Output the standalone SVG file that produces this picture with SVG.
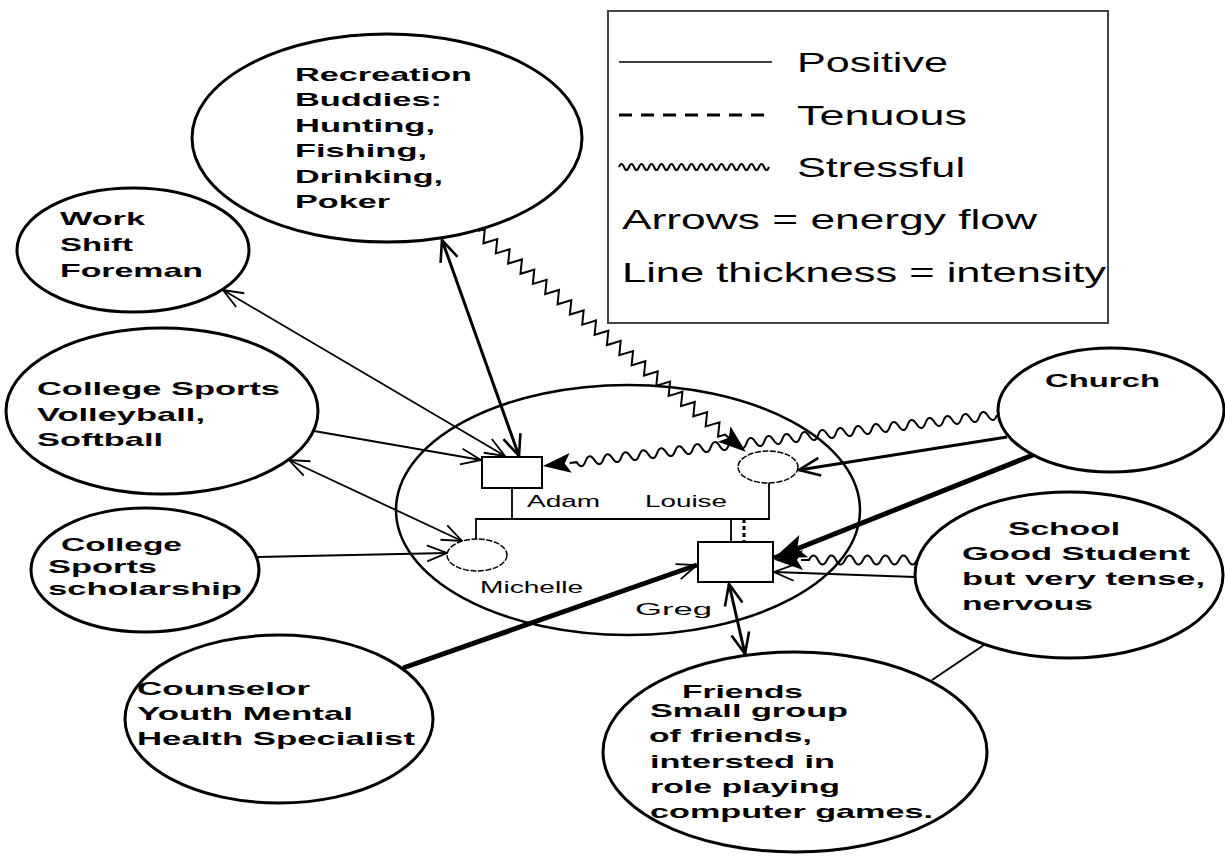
<svg xmlns="http://www.w3.org/2000/svg" xmlns:xlink="http://www.w3.org/1999/xlink" width="1225" height="858" viewBox="0 0 1225 858">
<style>
.bg{fill:#ffffff}
.node{fill:none;stroke:#000;stroke-width:3}
.fam{fill:none;stroke:#000;stroke-width:2.5}
.box{fill:#fff;stroke:#000;stroke-width:2}
.fem{fill:#fff;stroke:#000;stroke-width:1.5;stroke-dasharray:6 1.5}
.tie{fill:none;stroke:#000;stroke-width:1.8}
.lg{font-family:"Liberation Sans",Arial,Helvetica,sans-serif;font-size:28px;fill:#000}
.nt{font-family:"Liberation Sans",Arial,Helvetica,sans-serif;font-size:19px;font-weight:bold;fill:#000}
.fl{font-family:"Liberation Sans",Arial,Helvetica,sans-serif;font-size:16px;fill:#000}
.thin{fill:none;stroke:#000;stroke-width:1.8}
.mid{fill:none;stroke:#000;stroke-width:3}
.thick{fill:none;stroke:#000;stroke-width:5}
.zig{fill:none;stroke:#000;stroke-width:2;stroke-linejoin:miter}
.wave{fill:none;stroke:#000;stroke-width:2}
</style>
<defs>
<marker id="chev" viewBox="-30 -15 40 30" markerWidth="40" markerHeight="30" refX="0" refY="0" orient="auto-start-reverse" markerUnits="userSpaceOnUse" overflow="visible">
<path d="M-20,-8 L0,0 L-20,8" fill="none" stroke="#000" stroke-width="1.8"/>
</marker>
<marker id="chevB" viewBox="-30 -15 40 30" markerWidth="40" markerHeight="30" refX="0" refY="0" orient="auto-start-reverse" markerUnits="userSpaceOnUse" overflow="visible">
<path d="M-21,-9 L0,0 L-21,9" fill="none" stroke="#000" stroke-width="2.6"/>
</marker>
<marker id="solid" viewBox="-35 -15 40 30" markerWidth="40" markerHeight="30" refX="0" refY="0" orient="auto" markerUnits="userSpaceOnUse" overflow="visible">
<path d="M0,0 L-32,-12 L-25,0 L-32,12 Z" fill="#000"/>
</marker>
<path id="headF" d="M0,0 L-28,-10 L-22,0 L-28,10 Z" fill="#000"/>
</defs>
<rect class="bg" x="0" y="0" width="1225" height="858"/>

<g id="legend">
<rect x="608" y="11" width="500" height="312" fill="none" stroke="#444" stroke-width="2"/>
<line x1="619" y1="62" x2="772" y2="62" stroke="#000" stroke-width="1.5"/>
<text class="lg" x="797" y="72" textLength="151" lengthAdjust="spacingAndGlyphs">Positive</text>
<line x1="619" y1="115" x2="766" y2="115" stroke="#000" stroke-width="3" stroke-dasharray="13 9"/>
<text class="lg" x="797" y="125" textLength="170" lengthAdjust="spacingAndGlyphs">Tenuous</text>
<path class="wave" stroke-width="1.8" d="M619,167 q2.5,-6 5,0 t5,0 t5,0 t5,0 t5,0 t5,0 t5,0 t5,0 t5,0 t5,0 t5,0 t5,0 t5,0 t5,0 t5,0 t5,0 t5,0 t5,0 t5,0 t5,0 t5,0 t5,0 t5,0 t5,0 t5,0 t5,0 t5,0 t5,0 t5,0 t5,0"/>
<text class="lg" x="797" y="177" textLength="168" lengthAdjust="spacingAndGlyphs">Stressful</text>
<text class="lg" x="622" y="229" textLength="415" lengthAdjust="spacingAndGlyphs">Arrows = energy flow</text>
<text class="lg" x="622" y="282" textLength="484" lengthAdjust="spacingAndGlyphs">Line thickness = intensity</text>
</g>

<g id="connectors">
<!-- Recreation <-> Adam -->
<line class="mid" x1="442" y1="240" x2="519" y2="456" marker-start="url(#chevB)" marker-end="url(#chevB)"/>
<!-- Work <-> Adam -->
<line class="thin" x1="223" y1="290" x2="505" y2="456" marker-start="url(#chev)" marker-end="url(#chev)"/>
<!-- College Sports -> Adam -->
<line class="thin" x1="314" y1="431" x2="481" y2="460" marker-end="url(#chev)"/>
<!-- College Sports <-> Michelle -->
<line class="thin" x1="289" y1="460" x2="462" y2="541" marker-start="url(#chev)" marker-end="url(#chev)"/>
<!-- Scholarship -> Michelle -->
<line class="thin" x1="257" y1="557" x2="447" y2="553" marker-end="url(#chev)"/>
<!-- Recreation ~> Louise -->
<g transform="translate(478,231) rotate(39.5)">
<path class="zig" d="M0,0 l4,-6 l8,12 l4,-6 l4,-6 l8,12 l4,-6 l4,-6 l8,12 l4,-6 l4,-6 l8,12 l4,-6 l4,-6 l8,12 l4,-6 l4,-6 l8,12 l4,-6 l4,-6 l8,12 l4,-6 l4,-6 l8,12 l4,-6 l4,-6 l8,12 l4,-6 l4,-6 l8,12 l4,-6 l4,-6 l8,12 l4,-6 l4,-6 l8,12 l4,-6 l4,-6 l8,12 l4,-6 l4,-6 l8,12 l4,-6 l4,-6 l8,12 l4,-6 l4,-6 l8,12 l4,-6 l4,-6 l8,12 l4,-6 l4,-6 l8,12 l4,-6 l4,-6 l8,12 l4,-6 l4,-6 l8,12 l4,-6 L326,0"/>
<use xlink:href="#headF" href="#headF" transform="translate(347,0)"/>
</g>
<!-- Church ~> Adam -->
<g transform="translate(997,415) rotate(173.6)">
<path class="wave" d="M0,0 q4.5,-9 9,0 t9,0 t9,0 t9,0 t9,0 t9,0 t9,0 t9,0 t9,0 t9,0 t9,0 t9,0 t9,0 t9,0 t9,0 t9,0 t9,0 t9,0 t9,0 t9,0 t9,0 t9,0 t9,0 t9,0 t9,0 t9,0 t9,0 t9,0 t9,0 t9,0 t9,0 t9,0 t9,0 t9,0 t9,0 t9,0 t9,0 t9,0 t9,0 t9,0 t9,0 t9,0 t9,0 t9,0 t9,0 t9,0 t9,0 l7,0"/>
<use xlink:href="#headF" href="#headF" transform="translate(457,0)"/>
</g>
<!-- Church -> Louise -->
<line class="mid" x1="1007" y1="437" x2="799" y2="470" marker-end="url(#chevB)"/>
<!-- Church -> Greg -->
<line class="thick" x1="1033" y1="455" x2="774" y2="558" marker-end="url(#solid)"/>
<!-- School ~> Greg -->
<g transform="translate(917,560) rotate(180)">
<path class="wave" d="M0,0 q4.5,-9 9,0 t9,0 t9,0 t9,0 t9,0 t9,0 t9,0 t9,0 t9,0 t9,0 t9,0 t9,0 l8,0"/>
<use xlink:href="#headF" href="#headF" transform="translate(142,0)"/>
</g>
<!-- School -> Greg -->
<line class="thin" x1="915" y1="577" x2="774" y2="572" marker-end="url(#chev)"/>
<!-- Counselor -> Greg -->
<line class="thick" x1="403" y1="668" x2="697" y2="565" marker-end="url(#chev)"/>
<!-- Greg <-> Friends -->
<line class="mid" x1="729" y1="584" x2="745" y2="654" marker-start="url(#chevB)" marker-end="url(#chevB)"/>
<!-- School - Friends -->
<line x1="984" y1="645" x2="932" y2="680" stroke="#000" stroke-width="2"/>
</g>

<g id="recreation">
<ellipse class="node" cx="387" cy="138" rx="195" ry="104"/>
<text class="nt" x="295" y="81" textLength="177" lengthAdjust="spacingAndGlyphs">Recreation</text>
<text class="nt" x="295" y="106" textLength="147" lengthAdjust="spacingAndGlyphs">Buddies:</text>
<text class="nt" x="295" y="132" textLength="140" lengthAdjust="spacingAndGlyphs">Hunting,</text>
<text class="nt" x="295" y="157" textLength="132" lengthAdjust="spacingAndGlyphs">Fishing,</text>
<text class="nt" x="295" y="183" textLength="148" lengthAdjust="spacingAndGlyphs">Drinking,</text>
<text class="nt" x="295" y="208" textLength="95" lengthAdjust="spacingAndGlyphs">Poker</text>
</g>

<g id="work">
<ellipse class="node" cx="133" cy="250" rx="116" ry="62"/>
<text class="nt" x="60" y="225" textLength="85" lengthAdjust="spacingAndGlyphs">Work</text>
<text class="nt" x="60" y="251" textLength="73" lengthAdjust="spacingAndGlyphs">Shift</text>
<text class="nt" x="60" y="277" textLength="143" lengthAdjust="spacingAndGlyphs">Foreman</text>
</g>

<g id="college-sports">
<ellipse class="node" cx="162" cy="411" rx="156" ry="83"/>
<text class="nt" x="37" y="395" textLength="243" lengthAdjust="spacingAndGlyphs">College Sports</text>
<text class="nt" x="37" y="421" textLength="168" lengthAdjust="spacingAndGlyphs">Volleyball,</text>
<text class="nt" x="37" y="446" textLength="126" lengthAdjust="spacingAndGlyphs">Softball</text>
</g>

<g id="scholarship">
<ellipse class="node" cx="145" cy="570" rx="114" ry="62"/>
<text class="nt" x="61" y="551" textLength="121" lengthAdjust="spacingAndGlyphs">College</text>
<text class="nt" x="48" y="573" textLength="109" lengthAdjust="spacingAndGlyphs">Sports</text>
<text class="nt" x="48" y="595" textLength="194" lengthAdjust="spacingAndGlyphs">scholarship</text>
</g>

<g id="counselor">
<ellipse class="node" cx="279" cy="719" rx="154" ry="84"/>
<text class="nt" x="137" y="695" textLength="173" lengthAdjust="spacingAndGlyphs">Counselor</text>
<text class="nt" x="137" y="720" textLength="216" lengthAdjust="spacingAndGlyphs">Youth Mental</text>
<text class="nt" x="137" y="745" textLength="278" lengthAdjust="spacingAndGlyphs">Health Specialist</text>
</g>

<g id="friends">
<ellipse class="node" cx="795" cy="752" rx="192" ry="100"/>
<text class="nt" x="682" y="698" textLength="121" lengthAdjust="spacingAndGlyphs">Friends</text>
<text class="nt" x="650" y="717" textLength="198" lengthAdjust="spacingAndGlyphs">Small group</text>
<text class="nt" x="649" y="742" textLength="163" lengthAdjust="spacingAndGlyphs">of friends,</text>
<text class="nt" x="650" y="768" textLength="185" lengthAdjust="spacingAndGlyphs">intersted in</text>
<text class="nt" x="650" y="793" textLength="190" lengthAdjust="spacingAndGlyphs">role playing</text>
<text class="nt" x="650" y="818" textLength="283" lengthAdjust="spacingAndGlyphs">computer games.</text>
</g>

<g id="school">
<ellipse class="node" cx="1069" cy="575" rx="154" ry="83"/>
<text class="nt" x="1008" y="535" textLength="112" lengthAdjust="spacingAndGlyphs">School</text>
<text class="nt" x="962" y="560" textLength="228" lengthAdjust="spacingAndGlyphs">Good Student</text>
<text class="nt" x="962" y="585" textLength="243" lengthAdjust="spacingAndGlyphs">but very tense,</text>
<text class="nt" x="962" y="610" textLength="131" lengthAdjust="spacingAndGlyphs">nervous</text>
</g>

<g id="church">
<ellipse class="node" cx="1111" cy="410" rx="113" ry="62"/>
<text class="nt" x="1045" y="387" textLength="115" lengthAdjust="spacingAndGlyphs">Church</text>
</g>

<g id="family">
<ellipse class="fam" cx="628" cy="510" rx="232" ry="125"/>
<polyline class="tie" points="512,488 512,519"/>
<polyline class="tie" points="476,539 476,519 769,519 769,483"/>
<line class="tie" x1="731" y1="519" x2="731" y2="542"/>
<line x1="744" y1="519" x2="744" y2="542" stroke="#000" stroke-width="3" stroke-dasharray="4 3"/>
</g>

<g id="adam">
<rect class="box" x="482" y="457" width="60" height="31"/>
<text class="fl" x="527" y="507" textLength="73" lengthAdjust="spacingAndGlyphs">Adam</text>
</g>
<g id="louise">
<ellipse class="fem" cx="768" cy="467" rx="30" ry="16"/>
<text class="fl" x="645" y="507" textLength="82" lengthAdjust="spacingAndGlyphs">Louise</text>
</g>
<g id="michelle">
<ellipse class="fem" cx="477" cy="555" rx="30" ry="16"/>
<text class="fl" x="480" y="593" textLength="103" lengthAdjust="spacingAndGlyphs">Michelle</text>
</g>
<g id="greg">
<rect class="box" x="698" y="542" width="75" height="40"/>
<text class="fl" x="635" y="615" font-size="18" textLength="77" lengthAdjust="spacingAndGlyphs">Greg</text>
</g>
</svg>
